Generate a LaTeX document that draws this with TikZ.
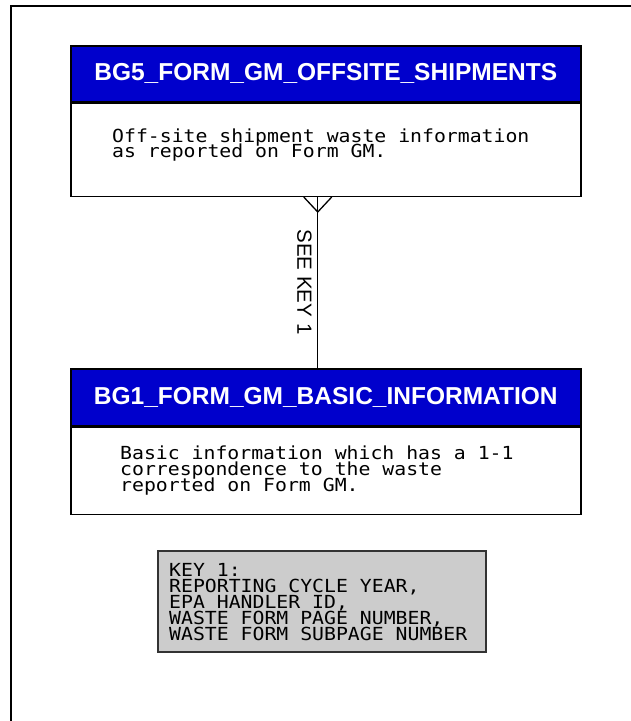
\documentclass[tikz,border=0pt]{standalone}
\usepackage{fontspec}
\setmainfont{Liberation Sans}
\newfontfamily\monoft[FakeStretch=1.1]{DejaVu Sans Mono}
\usetikzlibrary{calc}
\definecolor{hdrblue}{RGB}{0,0,204}
\definecolor{keygray}{RGB}{204,204,204}
\begin{document}
\begin{tikzpicture}[x=1pt,y=-1pt,
  hdr/.style={draw=black, line width=1.5pt, fill=hdrblue, anchor=north west,
    minimum width=510pt, inner sep=0pt, text=white,
    font=\bfseries\fontsize{24.5}{28}\selectfont},
  bodybox/.style={draw=black, line width=1.5pt, fill=white, anchor=north west,
    minimum width=510pt, inner sep=0pt},
  desc/.style={font=\monoft\fontsize{18}{18}\selectfont, anchor=base west, inner sep=0pt,
    text height=12.8pt, text depth=2.6pt},
  keybox/.style={draw=black!80, line width=2pt, fill=keygray, anchor=north west,
    minimum width=328pt, minimum height=101pt, inner sep=0pt},
  rel/.style={line width=1.3pt},
  lbl/.style={font=\fontsize{20.5}{24}\selectfont, rotate=-90, inner sep=0pt}
]
\useasboundingbox (0,0) rectangle (630,721);
\fill[white] (0,0) rectangle (630,721);
% frame
\draw[line width=2pt] (11,722) -- (11,5.5) -- (631,5.5);

% BG5 entity
\node[hdr, minimum height=56pt] (bg5h) at (70,45) {BG5\_FORM\_GM\_OFFSITE\_SHIPMENTS};
\node[bodybox, minimum height=93pt] (bg5b) at (bg5h.south west) {};
\node[desc] (bg5l1) at (112,142) {Off-site shipment waste information};
\node[desc] (bg5l2) at (112,157.5) {as reported on Form GM.};

% BG1 entity
\node[hdr, minimum height=57pt] (bg1h) at (70,368) {BG1\_FORM\_GM\_BASIC\_INFORMATION};
\node[bodybox, minimum height=87pt] (bg1b) at (bg1h.south west) {};
\node[desc] (bg1l1) at (120,459.5) {Basic information which has a 1-1};
\node[desc] (bg1l2) at (120,475.5) {correspondence to the waste};
\node[desc] (bg1l3) at (120,491.5) {reported on Form GM.};

% relationship
\draw[rel] ($(bg5b.south)+(-8,0)$) -- ($(bg1h.north)+(-8,0)$);
\draw[rel] ($(bg5b.south)+(-22,0)$) -- ($(bg5b.south)+(-8,15)$) -- ($(bg5b.south)+(6,0)$);
\node[lbl] (see) at (304.5,282) {SEE KEY 1};

% key
\node[keybox] (key) at (157,550) {};
\node[desc] (k1) at (169,576.5) {KEY 1:};
\node[desc] (k2) at (169,592.5) {REPORTING CYCLE YEAR,};
\node[desc] (k3) at (169,608.5) {EPA HANDLER ID,};
\node[desc] (k4) at (169,624.5) {WASTE FORM PAGE NUMBER,};
\node[desc] (k5) at (169,640.5) {WASTE FORM SUBPAGE NUMBER};
\end{tikzpicture}
\end{document}
